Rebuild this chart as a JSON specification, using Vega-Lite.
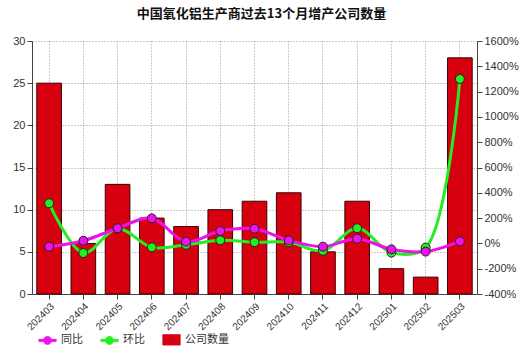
{
  "$schema": "https://vega.github.io/schema/vega-lite/v6.json",
  "width": 445,
  "height": 253,
  "autosize": "none",
  "padding": {"left": 32, "top": 41, "right": 55, "bottom": 62},
  "background": "white",
  "title": {"text": "中国氧化铝生产商过去13个月增产公司数量", "fontSize": 13, "fontWeight": "bold", "font": "Noto Sans CJK SC", "color": "#111", "offset": 14, "dx": 7, "anchor": "middle"},
  "data": {"values": [
    {"month": "202403", "count": 25, "同比": -26, "环比": 317},
    {"month": "202404", "count": 6, "同比": 21, "环比": -76},
    {"month": "202405", "count": 13, "同比": 120, "环比": 117},
    {"month": "202406", "count": 9, "同比": 198, "环比": -31},
    {"month": "202407", "count": 8, "同比": 14, "环比": -11},
    {"month": "202408", "count": 10, "同比": 98, "环比": 25},
    {"month": "202409", "count": 11, "同比": 116, "环比": 10},
    {"month": "202410", "count": 12, "同比": 24, "环比": 9},
    {"month": "202411", "count": 5, "同比": -26, "环比": -58},
    {"month": "202412", "count": 11, "同比": 37, "环比": 120},
    {"month": "202501", "count": 3, "同比": -47, "环比": -73},
    {"month": "202502", "count": 2, "同比": -65, "环比": -33},
    {"month": "202503", "count": 28, "同比": 16, "环比": 1300}
  ]},
  "config": {
    "view": {"stroke": null},
    "axis": {"labelFont": "Liberation Sans", "labelFontSize": 11, "labelColor": "#333", "domainColor": "#444", "tickColor": "#444", "gridColor": "#999", "gridDash": [1, 2], "gridOpacity": 1, "tickSize": 5},
    "legend": {
      "orient": "none", "legendX": 6, "legendY": 289, "direction": "horizontal", "title": null,
      "symbolSize": 300, "labelFontSize": 11, "labelFont": "Noto Sans CJK SC", "labelColor": "#333",
      "columnPadding": 16, "labelOffset": 4
    }
  },
  "encoding": {
    "x": {"field": "month", "type": "ordinal", "scale": {"paddingInner": 0.28, "paddingOuter": 0.14},
      "axis": {"title": null, "labelAngle": -45, "grid": true, "labelFontSize": 10}}
  },
  "layer": [
    {
      "mark": {"type": "bar", "stroke": "#3a0000", "strokeWidth": 1},
      "encoding": {
        "y": {"field": "count", "type": "quantitative", "scale": {"domain": [0, 30]},
          "axis": {"title": null, "orient": "left", "values": [0, 5, 10, 15, 20, 25, 30], "grid": true}},
        "color": {"datum": "公司数量", "type": "nominal",
          "scale": {"domain": ["同比", "环比", "公司数量"], "range": ["#ee11ee", "#22ee22", "#d7000f"]},
          "legend": {
            "orient": "none", "legendX": 6, "legendY": 289, "direction": "horizontal", "title": null,
            "encode": {"symbols": {"update": {
              "shape": {"signal": "datum.value === '公司数量' ? 'M-1,-0.6H1V0.6H-1Z' : 'M-1,-0.13H-0.45A0.47,0.47 0 0,1 0.45,-0.13H1V0.13H0.45A0.47,0.47 0 0,1 -0.45,0.13H-1Z'"},
              "fill": {"signal": "scale('color', datum.value)"},
              "stroke": {"value": "#333"},
              "strokeWidth": {"value": 0.8}
            }}}
          }}
      }
    },
    {
      "transform": [{"fold": ["环比", "同比"], "as": ["series", "pct"]}],
      "mark": {"type": "line", "interpolate": "catmull-rom", "strokeWidth": 3,
        "point": {"filled": true, "size": 80, "stroke": "#222", "strokeWidth": 1}},
      "encoding": {
        "y": {"field": "pct", "type": "quantitative", "scale": {"domain": [-400, 1600]},
          "axis": {"title": null, "orient": "right", "values": [-400, -200, 0, 200, 400, 600, 800, 1000, 1200, 1400, 1600], "labelExpr": "datum.value + '%'", "grid": false}},
        "color": {"field": "series", "type": "nominal",
          "legend": {
            "orient": "none", "legendX": 6, "legendY": 289, "direction": "horizontal", "title": null,
            "encode": {"symbols": {"update": {
              "shape": {"signal": "datum.value === '公司数量' ? 'M-1,-0.6H1V0.6H-1Z' : 'M-1,-0.13H-0.45A0.47,0.47 0 0,1 0.45,-0.13H1V0.13H0.45A0.47,0.47 0 0,1 -0.45,0.13H-1Z'"},
              "fill": {"signal": "scale('color', datum.value)"},
              "stroke": {"value": "#333"},
              "strokeWidth": {"value": 0.8}
            }}}
          }}
      }
    }
  ],
  "resolve": {"scale": {"y": "independent"}}
}
